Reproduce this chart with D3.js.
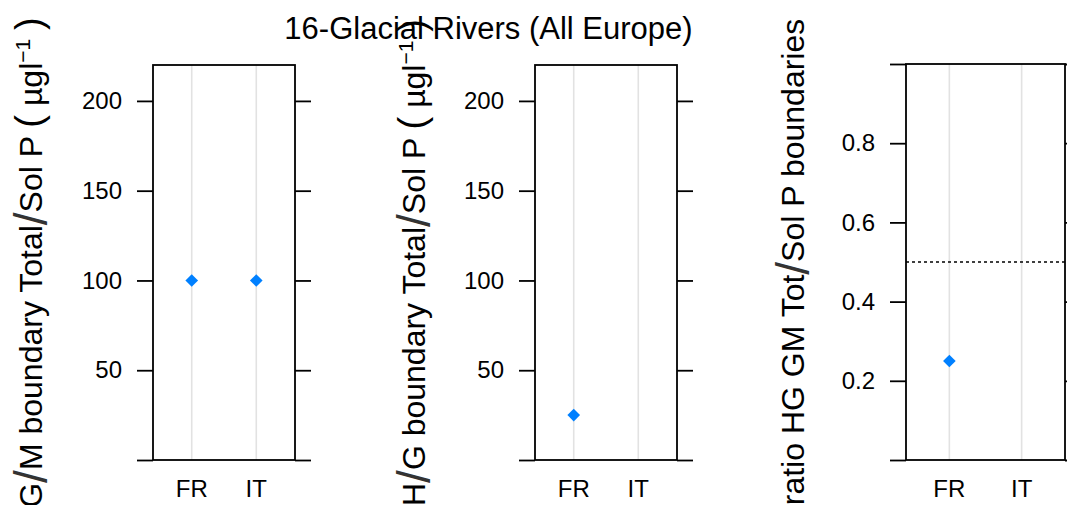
<!DOCTYPE html>
<html>
<head>
<meta charset="utf-8">
<script src="https://cdn.jsdelivr.net/npm/d3@7"></script>
<style>
  html, body { margin: 0; padding: 0; background: #fff; }
  svg { display: block; font-family: "Liberation Sans", Arial, sans-serif; }
</style>
</head>
<body>
<svg id="chart" width="1067" height="505"></svg>
<script>
// ---- data ----
const titleText = "16-Glacial Rivers (All Europe)";
const categories = ["FR", "IT"];
const gmBoundaryTotal = [100, 100];          // G/M boundary Total/Sol P (µg/l)
const hgBoundaryTotal = [25, null];          // H/G boundary Total/Sol P (µg/l)
const ratioHgGm = [0.25, null];              // ratio HG GM Tot/Sol P boundaries
const concTicks = [0, 50, 100, 150, 200];
const concTickLabels = ["", "50", "100", "150", "200"];
const ratioTicks = [0, 0.2, 0.4, 0.6, 0.8, 1.0];
const ratioTickLabels = ["", "0.2", "0.4", "0.6", "0.8", ""];
const ratioRefLine = 0.5;

const svg = d3.select("#chart");
const pointColor = "#0080ff";

function unitLabel(first, second) {
  return [
    {t: first}, {t: "/", slash: true}, {t: second}, {t: "/", slash: true},
    {t: "Sol P "}, {t: "(", paren: true}, {t: " µgl"}, {t: "−1", sup: true},
    {t: " "}, {t: ")", paren: true}
  ];
}

const panels = [
  {left: 153, right: 295, top: 65, bottom: 460, domain: [0, 220],
   values: gmBoundaryTotal, ticks: concTicks, tickLabels: concTickLabels,
   labelX: 42, label: unitLabel("G", "M boundary Total")},
  {left: 535, right: 677, top: 65, bottom: 460, domain: [0, 220],
   values: hgBoundaryTotal, ticks: concTicks, tickLabels: concTickLabels,
   labelX: 425, label: unitLabel("H", "G boundary Total")},
  {left: 906, right: 1065, top: 64, bottom: 460, domain: [0, 1],
   values: ratioHgGm, ticks: ratioTicks, tickLabels: ratioTickLabels,
   labelX: 804, refLine: ratioRefLine,
   label: [{t: "ratio HG GM Tot"}, {t: "/", slash: true}, {t: "Sol P boundaries"}]}
];

panels.forEach(p => {
  const g = svg.append("g");
  const x = d3.scalePoint().domain(categories).range([p.left, p.right]).padding(0.6);
  const y = d3.scaleLinear().domain(p.domain).range([p.bottom, p.top]);

  // vertical grid lines
  g.selectAll("line.grid").data(categories).join("line")
    .attr("x1", d => x(d)).attr("x2", d => x(d))
    .attr("y1", p.top).attr("y2", p.bottom)
    .attr("stroke", "#e2e2e2").attr("stroke-width", 1.6);

  // reference line
  if (p.refLine !== undefined) {
    g.append("line")
      .attr("x1", p.left).attr("x2", p.right)
      .attr("y1", y(p.refLine)).attr("y2", y(p.refLine))
      .attr("stroke", "#000").attr("stroke-width", 1.4)
      .attr("stroke-dasharray", "3,3");
  }

  // axes
  const ax = d3.axisLeft(y).tickValues(p.ticks).tickSize(16).tickPadding(15)
    .tickFormat((d, i) => p.tickLabels[i]);
  const axL = g.append("g").attr("transform", `translate(${p.left},0)`).call(ax);
  axL.select(".domain").remove();
  axL.selectAll("line").attr("stroke", "#000").attr("stroke-width", 1.8);
  axL.selectAll("text").attr("font-size", 24).attr("fill", "#000")
    .attr("font-family", "Liberation Sans, Arial, sans-serif");

  const axR = g.append("g").attr("transform", `translate(${p.right},0)`)
    .call(d3.axisRight(y).tickValues(p.ticks).tickSize(16).tickFormat(""));
  axR.select(".domain").remove();
  axR.selectAll("line").attr("stroke", "#000").attr("stroke-width", 1.8);

  // box
  g.append("rect")
    .attr("x", p.left).attr("y", p.top)
    .attr("width", p.right - p.left).attr("height", p.bottom - p.top)
    .attr("fill", "none").attr("stroke", "#000").attr("stroke-width", 1.8);

  // category labels
  g.selectAll("text.cat").data(categories).join("text")
    .attr("class", "cat")
    .attr("x", d => x(d)).attr("y", 497)
    .attr("text-anchor", "middle").attr("font-size", 24).attr("fill", "#000")
    .text(d => d);

  // points
  const pts = categories.map((c, i) => ({c, v: p.values[i]})).filter(d => d.v !== null);
  g.selectAll("path.pt").data(pts).join("path")
    .attr("class", "pt")
    .attr("d", d3.symbol(d3.symbolSquare, 80))
    .attr("transform", d => `translate(${x(d.c)},${y(d.v)}) rotate(45)`)
    .attr("fill", pointColor);

  // y label
  const yc = (p.top + p.bottom) / 2;
  const t = g.append("text")
    .attr("transform", `translate(${p.labelX},${yc}) rotate(-90)`)
    .attr("text-anchor", "middle").attr("font-size", 32).attr("fill", "#000");
  p.label.forEach(part => {
    const ts = t.append("tspan").text(part.t);
    if (part.slash) ts.attr("font-size", 46).attr("fill", "#333").attr("dy", 5);
    if (part.paren) ts.attr("font-size", 38);
    if (part.sup) ts.attr("font-size", 21).attr("dy", -12);
    if (part.slash) part.reset = -5;
    if (part.sup) part.reset = 12;
  });
  const nodes = t.selectAll("tspan").nodes();
  p.label.forEach((part, i) => {
    if (part.reset && nodes[i + 1]) {
      const cur = +d3.select(nodes[i + 1]).attr("dy") || 0;
      d3.select(nodes[i + 1]).attr("dy", cur + part.reset);
    }
  });
});

// title
svg.append("text")
  .attr("x", 488.5).attr("y", 39)
  .attr("text-anchor", "middle").attr("font-size", 31).attr("fill", "#000")
  .text(titleText);
</script>
</body>
</html>
